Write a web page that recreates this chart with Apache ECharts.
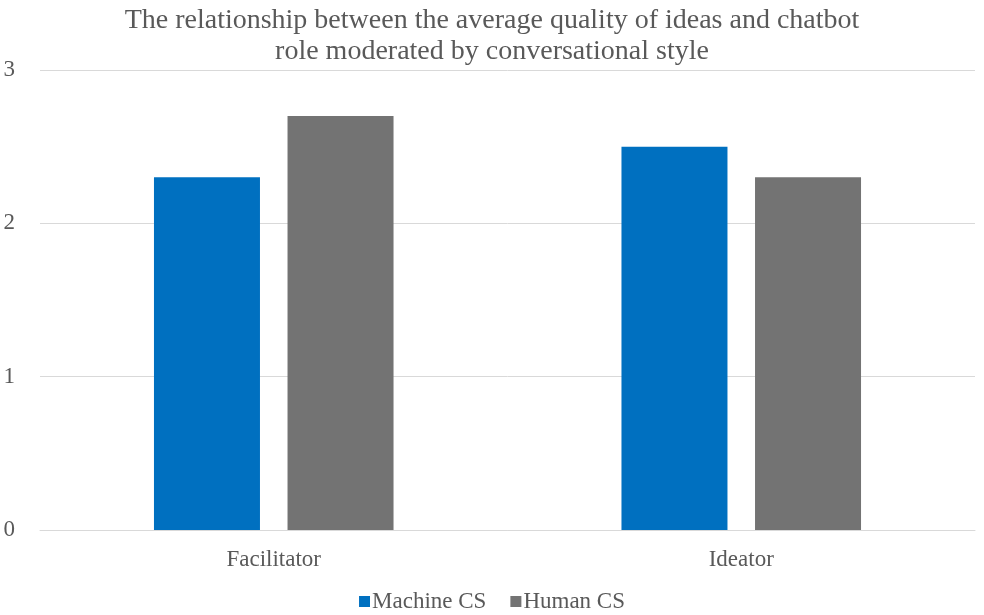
<!DOCTYPE html>
<html>
<head>
<meta charset="utf-8">
<script src="https://cdn.jsdelivr.net/npm/echarts@6/dist/echarts.min.js"></script>
<style>
  html, body { margin: 0; padding: 0; background: #fff; }
  #chart { width: 984px; height: 615px; }
</style>
</head>
<body>
<div id="chart"></div>
<script>
// Chatbot role categories and mean idea quality per conversational style
const categories = ['Facilitator', 'Ideator'];
const machineCS = [2.3, 2.5];
const humanCS = [2.7, 2.3];
const yTicks = [0, 1, 2, 3];

const serif = '"Liberation Serif", "DejaVu Serif", serif';
const textGrey = '#595959';

const chart = echarts.init(document.getElementById('chart'));
chart.setOption({
  animation: false,
  backgroundColor: '#ffffff',
  textStyle: { fontFamily: serif },
  title: {
    text: 'The relationship between the average quality of ideas and chatbot\nrole moderated by conversational style',
    left: 'center',
    top: 0,
    textStyle: {
      fontFamily: serif,
      fontWeight: 'normal',
      fontSize: 28,
      lineHeight: 31,
      color: textGrey
    }
  },
  legend: {
    bottom: -3,
    left: 'center',
    itemWidth: 11,
    itemHeight: 11,
    itemGap: 24,
    icon: 'rect',
    textStyle: { fontFamily: serif, fontSize: 23, color: textGrey, padding: [0, 0, 0, -3] },
    data: ['Machine CS', 'Human CS']
  },
  grid: { left: 40, right: 9, top: 70, bottom: 85, containLabel: false },
  xAxis: {
    type: 'category',
    data: categories,
    axisLine: { lineStyle: { color: '#d9d9d9', width: 1 } },
    axisTick: { show: false },
    axisLabel: { fontFamily: serif, fontSize: 23, color: textGrey, margin: 18 }
  },
  yAxis: {
    type: 'value',
    min: yTicks[0],
    max: yTicks[yTicks.length - 1],
    interval: 1,
    axisLine: { show: false },
    axisTick: { show: false },
    splitLine: { lineStyle: { color: '#d9d9d9', width: 1 } },
    axisLabel: { fontFamily: serif, fontSize: 23, color: textGrey, margin: 25 }
  },
  series: [
    {
      name: 'Machine CS',
      type: 'bar',
      data: machineCS,
      barWidth: 106,
      barGap: '26%',
      itemStyle: { color: '#0070c0' }
    },
    {
      name: 'Human CS',
      type: 'bar',
      data: humanCS,
      barWidth: 106,
      itemStyle: { color: '#737373' }
    }
  ]
});
</script>
</body>
</html>
